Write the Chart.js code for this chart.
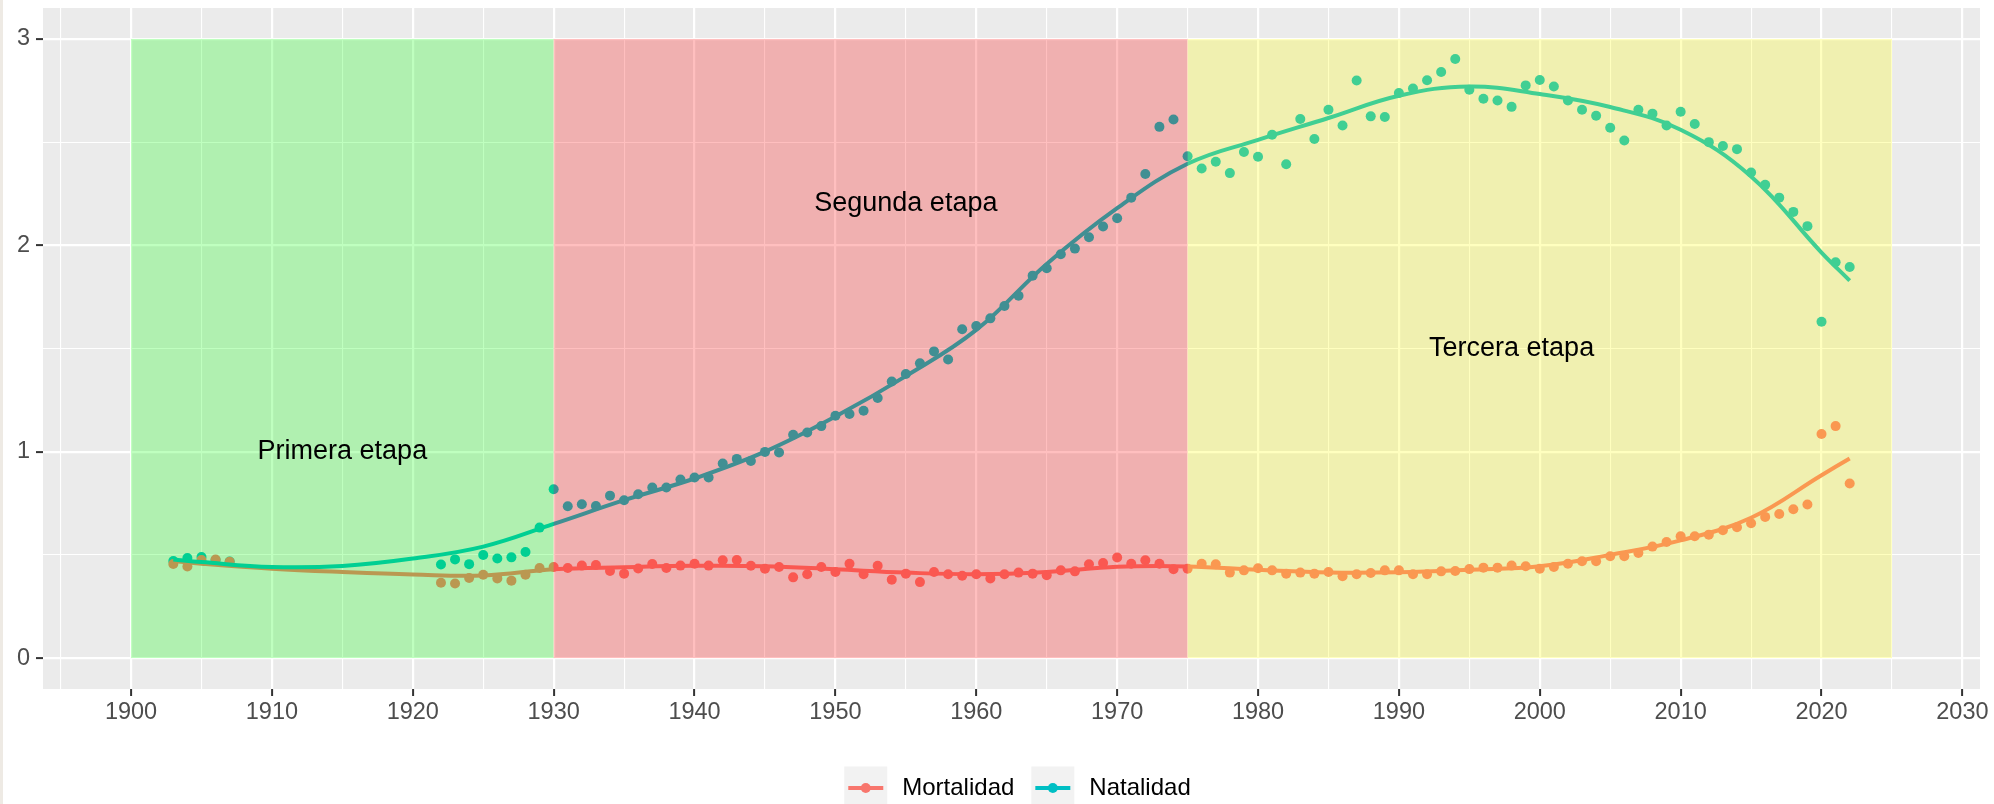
<!DOCTYPE html>
<html>
<head>
<meta charset="utf-8">
<script src="https://cdn.jsdelivr.net/npm/chart.js@4.4.1/dist/chart.umd.min.js"></script>
<style>
html, body { margin: 0; padding: 0; background: #ffffff; }
canvas { display: block; }
</style>
</head>
<body>
<canvas id="chart_canvas" width="1994" height="804"></canvas>
<script>
// anos con dato
var years = [1903, 1904, 1905, 1906, 1907,
    1922, 1923, 1924, 1925, 1926, 1927, 1928, 1929,
    1930, 1931, 1932, 1933, 1934, 1935, 1936, 1937, 1938, 1939,
    1940, 1941, 1942, 1943, 1944, 1945, 1946, 1947, 1948, 1949,
    1950, 1951, 1952, 1953, 1954, 1955, 1956, 1957, 1958, 1959,
    1960, 1961, 1962, 1963, 1964, 1965, 1966, 1967, 1968, 1969,
    1970, 1971, 1972, 1973, 1974, 1975, 1976, 1977, 1978, 1979,
    1980, 1981, 1982, 1983, 1984, 1985, 1986, 1987, 1988, 1989,
    1990, 1991, 1992, 1993, 1994, 1995, 1996, 1997, 1998, 1999,
    2000, 2001, 2002, 2003, 2004, 2005, 2006, 2007, 2008, 2009,
    2010, 2011, 2012, 2013, 2014, 2015, 2016, 2017, 2018, 2019,
    2020, 2021, 2022];

var natalidad = [0.470, 0.485, 0.490, 0.475, 0.468,
    0.453, 0.478, 0.455, 0.499, 0.482, 0.488, 0.514, 0.632,
    0.818, 0.736, 0.745, 0.737, 0.787, 0.765, 0.794, 0.826, 0.826, 0.865,
    0.875, 0.875, 0.943, 0.965, 0.955, 0.999, 0.996, 1.082, 1.093, 1.124,
    1.174, 1.183, 1.198, 1.260, 1.340, 1.376, 1.428, 1.486, 1.447, 1.593,
    1.609, 1.646, 1.706, 1.756, 1.853, 1.889, 1.957, 1.984, 2.039, 2.091,
    2.131, 2.231, 2.346, 2.574, 2.610, 2.432, 2.372, 2.405, 2.350, 2.452,
    2.429, 2.536, 2.393, 2.612, 2.515, 2.657, 2.581, 2.799, 2.625, 2.622,
    2.738, 2.760, 2.800, 2.840, 2.903, 2.754, 2.710, 2.702, 2.671, 2.775,
    2.801, 2.770, 2.702, 2.657, 2.628, 2.570, 2.508, 2.657, 2.638, 2.581,
    2.647, 2.588, 2.500, 2.481, 2.466, 2.353, 2.293, 2.231, 2.162, 2.093,
    1.630, 1.918, 1.895];

var mortalidad = [0.456, 0.444, 0.475, 0.477, 0.467,
    0.365, 0.361, 0.388, 0.404, 0.386, 0.375, 0.404, 0.436,
    0.441, 0.436, 0.448, 0.451, 0.422, 0.409, 0.434, 0.456, 0.436, 0.448,
    0.457, 0.448, 0.474, 0.475, 0.447, 0.433, 0.441, 0.391, 0.406, 0.441,
    0.417, 0.457, 0.406, 0.447, 0.380, 0.409, 0.368, 0.417, 0.406, 0.399,
    0.406, 0.386, 0.406, 0.414, 0.409, 0.401, 0.425, 0.420, 0.454, 0.461,
    0.487, 0.457, 0.474, 0.457, 0.430, 0.433, 0.457, 0.454, 0.414, 0.425,
    0.435, 0.425, 0.409, 0.414, 0.409, 0.417, 0.396, 0.406, 0.412, 0.425,
    0.425, 0.406, 0.406, 0.420, 0.422, 0.431, 0.438, 0.438, 0.448, 0.445,
    0.433, 0.441, 0.457, 0.469, 0.469, 0.493, 0.493, 0.509, 0.540, 0.562,
    0.590, 0.590, 0.598, 0.619, 0.634, 0.653, 0.684, 0.698, 0.721, 0.744,
    1.086, 1.124, 0.846];

// curva suavizada (loess)
var smooth_years = [1903, 1905, 1910, 1915, 1920, 1925, 1930, 1935, 1940, 1945,
    1950, 1955, 1960, 1965, 1970, 1975, 1980, 1985, 1990, 1995,
    2000, 2005, 2010, 2015, 2020, 2022];
var natalidad_smooth = [0.478, 0.465, 0.441, 0.446, 0.482, 0.540, 0.650, 0.765, 0.870, 1.000,
    1.170, 1.366, 1.590, 1.910, 2.180, 2.395, 2.511, 2.617, 2.725, 2.770,
    2.733, 2.670, 2.560, 2.334, 1.965, 1.829];
var mortalidad_smooth = [0.470, 0.457, 0.433, 0.417, 0.405, 0.400, 0.430, 0.440, 0.447, 0.445,
    0.430, 0.414, 0.406, 0.417, 0.442, 0.444, 0.428, 0.415, 0.416, 0.428,
    0.445, 0.500, 0.570, 0.680, 0.886, 0.967];

// etapas
var etapas = ["Primera etapa", "Segunda etapa", "Tercera etapa"];
var etapa_inicio = [1900, 1930, 1975];
var etapa_fin = [1930, 1975, 2025];
var etapa_alto = 3;
var etapa_color = ["rgba(0,255,0,0.25)", "rgba(255,0,0,0.25)", "rgba(255,255,0,0.25)"];
var etapa_texto_x = [1915, 1955, 1998];
var etapa_texto_y = [1, 2.2, 1.5];

var x_ticks = [1900, 1910, 1920, 1930, 1940, 1950, 1960, 1970, 1980, 1990, 2000, 2010, 2020, 2030];
var y_ticks = [0, 1, 2, 3];

var series_names = ["Mortalidad", "Natalidad"];
var series_colors = ["#F8766D", "#00BFC4"];

var font_family = "'Liberation Sans', Arial, sans-serif";

function to_points(xs, ys){
    var out = [];
    for (var i = 0; i < xs.length; i++){
        out.push({x: xs[i], y: ys[i]});
    }
    return out;
}

function is_major(list, v){
    return list.indexOf(v) !== -1;
}

// fondo del panel
var panel_plugin = {
    id: 'panel',
    beforeDraw: function(chart){
        var ctx = chart.ctx;
        var a = chart.chartArea;
        ctx.save();
        ctx.fillStyle = '#ffffff';
        ctx.fillRect(0, 0, chart.width, chart.height);
        ctx.fillStyle = '#EEEAE4';
        ctx.fillRect(0, 0, 3, chart.height);
        ctx.fillStyle = '#EBEBEB';
        ctx.fillRect(a.left, a.top, a.right - a.left, a.bottom - a.top);
        ctx.restore();
    }
};

// rectangulos de etapas encima de los puntos, y los textos
var etapas_plugin = {
    id: 'etapas',
    afterDatasetsDraw: function(chart){
        var ctx = chart.ctx;
        var xs = chart.scales.x, ys = chart.scales.y;
        ctx.save();
        for (var i = 0; i < etapas.length; i++){
            var x0 = xs.getPixelForValue(etapa_inicio[i]);
            var x1 = xs.getPixelForValue(etapa_fin[i]);
            var y0 = ys.getPixelForValue(0);
            var y1 = ys.getPixelForValue(etapa_alto);
            ctx.fillStyle = etapa_color[i];
            ctx.fillRect(x0, y1, x1 - x0, y0 - y1);
        }
        ctx.fillStyle = '#000000';
        ctx.font = '27px ' + font_family;
        ctx.textAlign = 'center';
        ctx.textBaseline = 'middle';
        for (var j = 0; j < etapas.length; j++){
            ctx.fillText(etapas[j], xs.getPixelForValue(etapa_texto_x[j]), ys.getPixelForValue(etapa_texto_y[j]));
        }
        ctx.restore();
    }
};

// leyenda estilo ggplot abajo
var legend_plugin = {
    id: 'ggLegend',
    afterDraw: function(chart){
        var ctx = chart.ctx;
        var key = 43, gap = 15, spacing = 17;
        var cy = 788;
        ctx.save();
        ctx.font = '24px ' + font_family;
        var total = 0;
        var widths = [];
        for (var i = 0; i < series_names.length; i++){
            widths.push(ctx.measureText(series_names[i]).width);
            total += key + gap + widths[i];
        }
        total += spacing * (series_names.length - 1);
        var x = (chart.chartArea.left + chart.chartArea.right) / 2 + 6 - total / 2;
        for (var k = 0; k < series_names.length; k++){
            ctx.fillStyle = '#F2F2F2';
            ctx.fillRect(x, cy - key / 2, key, key);
            ctx.strokeStyle = series_colors[k];
            ctx.lineWidth = 4;
            ctx.beginPath();
            ctx.moveTo(x + 4, cy);
            ctx.lineTo(x + key - 4, cy);
            ctx.stroke();
            ctx.fillStyle = series_colors[k];
            ctx.beginPath();
            ctx.arc(x + key / 2, cy, 5, 0, Math.PI * 2);
            ctx.fill();
            ctx.fillStyle = '#000000';
            ctx.textAlign = 'left';
            ctx.textBaseline = 'middle';
            ctx.fillText(series_names[k], x + key + gap, cy);
            x += key + gap + widths[k] + spacing;
        }
        ctx.restore();
    }
};

function init_chart(){
    var canvas = document.getElementById('chart_canvas');
    var ctx = canvas.getContext('2d');

    new Chart(ctx, {
        type: 'scatter',
        data: {
            datasets: [{
                    label: series_names[1],
                    data: to_points(years, natalidad),
                    backgroundColor: series_colors[1],
                    borderWidth: 0,
                    pointRadius: 5,
                    showLine: false,
                    order: 4
                },{
                    label: series_names[0],
                    data: to_points(years, mortalidad),
                    backgroundColor: series_colors[0],
                    borderWidth: 0,
                    pointRadius: 5,
                    showLine: false,
                    order: 3
                },{
                    label: series_names[0] + ' (suavizado)',
                    type: 'line',
                    data: to_points(smooth_years, mortalidad_smooth),
                    borderColor: series_colors[0],
                    borderWidth: 4,
                    pointRadius: 0,
                    fill: false,
                    tension: 0.4,
                    order: 2
                },{
                    label: series_names[1] + ' (suavizado)',
                    type: 'line',
                    data: to_points(smooth_years, natalidad_smooth),
                    borderColor: series_colors[1],
                    borderWidth: 4,
                    pointRadius: 0,
                    fill: false,
                    tension: 0.4,
                    order: 1
                }]
        },
        options: {
            responsive: false,
            animation: false,
            devicePixelRatio: 1,
            layout: { padding: { top: 8, right: 14, left: 0, bottom: 0 } },
            plugins: {
                legend: { display: false },
                tooltip: { enabled: false }
            },
            scales: {
                x: {
                    type: 'linear',
                    min: 1893.75,
                    max: 2031.25,
                    afterBuildTicks: function(scale){
                        var t = [];
                        for (var i = 0; i < x_ticks.length; i++){
                            t.push({value: x_ticks[i] - 5});
                            t.push({value: x_ticks[i]});
                        }
                        scale.ticks = t;
                    },
                    afterFit: function(scale){
                        scale.height = 115;
                        scale.paddingLeft = 0;
                        scale.paddingRight = 0;
                    },
                    border: { display: false },
                    grid: {
                        color: '#ffffff',
                        lineWidth: function(c){ return is_major(x_ticks, c.tick.value) ? 2.2 : 1.1; },
                        tickColor: function(c){ return is_major(x_ticks, c.tick.value) ? '#333333' : 'rgba(0,0,0,0)'; },
                        tickWidth: 2,
                        tickLength: 7
                    },
                    ticks: {
                        autoSkip: false,
                        maxRotation: 0,
                        padding: 2,
                        color: '#4D4D4D',
                        font: { family: font_family, size: 23.5 },
                        callback: function(v){ return is_major(x_ticks, v) ? String(v) : ''; }
                    }
                },
                y: {
                    type: 'linear',
                    min: -0.15,
                    max: 3.15,
                    afterBuildTicks: function(scale){
                        var t = [];
                        for (var i = 0; i < y_ticks.length; i++){
                            t.push({value: y_ticks[i]});
                            if (i < y_ticks.length - 1) t.push({value: y_ticks[i] + 0.5});
                        }
                        scale.ticks = t;
                    },
                    afterFit: function(scale){
                        scale.width = 43;
                        scale.paddingTop = 0;
                        scale.paddingBottom = 0;
                    },
                    border: { display: false },
                    grid: {
                        color: '#ffffff',
                        lineWidth: function(c){ return is_major(y_ticks, c.tick.value) ? 2.2 : 1.1; },
                        tickColor: function(c){ return is_major(y_ticks, c.tick.value) ? '#333333' : 'rgba(0,0,0,0)'; },
                        tickWidth: 2,
                        tickLength: 7
                    },
                    ticks: {
                        padding: 6,
                        color: '#4D4D4D',
                        font: { family: font_family, size: 23.5 },
                        callback: function(v){ return is_major(y_ticks, v) ? String(v) : ''; }
                    }
                }
            }
        },
        plugins: [panel_plugin, etapas_plugin, legend_plugin]
    });
}

init_chart();
</script>
</body>
</html>
